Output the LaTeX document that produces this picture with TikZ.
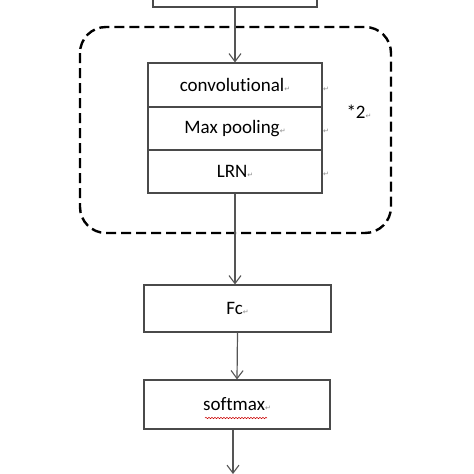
\documentclass[tikz,border=0pt]{standalone}
\usepackage{fontspec}
\setmainfont{Carlito}[Ligatures=NoCommon]
\newfontfamily\symfont{DejaVu Sans}
\usetikzlibrary{arrows.meta,decorations.pathmorphing}
\definecolor{boxgray}{HTML}{4A4A4A}
\definecolor{linegray}{HTML}{555555}
\definecolor{markgray}{HTML}{8A8A8A}
\newcommand{\retmk}{{\symfont\fontsize{7}{7}\selectfont\textcolor{markgray}{↵}}}
\begin{document}
\begin{tikzpicture}[x=1pt,y=-1pt,
  box/.style={draw=boxgray, line width=1.1pt, fill=white, inner sep=0pt,
    font=\fontsize{19}{22}\selectfont, text=black},
  conn/.style={draw=linegray, line width=1.2pt,
    -{Straight Barb[length=8pt,width=12pt,line width=1.1pt]}},
  group/.style={draw=black, line width=2.4pt, dash pattern=on 10pt off 5pt,
    rounded corners=26pt},
  endmark/.style={inner sep=0pt}]
\useasboundingbox (0,0) rectangle (474,474);
\clip (0,0) rectangle (474,474);
% dashed group
\draw[group] (80,27) rectangle (391,233);
% boxes
\node[box, minimum width=164pt, minimum height=34pt] (top) at (235,-10) {};
\node[box, minimum width=174pt, minimum height=44pt] (conv) at (235,85) {convolutional\retmk};
\node[box, minimum width=174pt, minimum height=43pt] (pool) at (235,128.5) {Max pooling\retmk};
\node[box, minimum width=174pt, minimum height=43pt] (lrn) at (235,171.5) {LRN\retmk};
\node[box, minimum width=187pt, minimum height=47pt] (fc) at (237.5,308.5) {Fc\retmk};
\node[box, minimum width=186pt, minimum height=49pt] (sm) at (237,404.5) {softmax\retmk};
% cell end marks and repeat label
\node[endmark] (m1) at (326,89) {\retmk};
\node[endmark] (m2) at (326,131) {\retmk};
\node[endmark] (m3) at (326,174) {\retmk};
\node[inner sep=0pt, font=\fontsize{19}{22}\selectfont] (rep) at (359,112) {*2\retmk};
% red wavy underline
\draw[red!80!black, line width=0.5pt, decorate,
  decoration={snake, amplitude=0.7pt, segment length=3pt}]
  (205,418) -- (267,418);
% connectors
\coordinate (out) at (233,474);
\draw[conn] (top.south) -- (conv.north);
\draw[conn] (lrn.south) -- (lrn.south |- fc.north);
\draw[conn] (fc.south) -- (sm.north);
\draw[conn] (sm.south -| out) -- (out);
\end{tikzpicture}
\end{document}
